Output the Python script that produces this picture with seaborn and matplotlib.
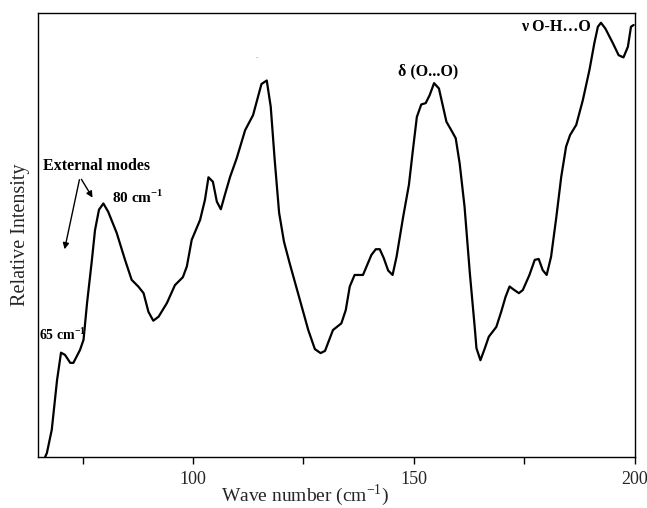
import matplotlib
matplotlib.use("Agg")
import matplotlib.pyplot as plt
import seaborn as sns
import pandas as pd

wavenumber = [66.5, 66.9, 68.0, 69.2, 70.1, 71.0, 72.2, 72.9, 74.4, 75.2, 76.0, 77.1, 77.8, 78.7,
              79.7, 80.8, 82.7, 84.6, 86.1, 87.6, 88.8, 89.9, 91.0, 92.2, 94.1, 95.9, 97.7,
              98.6, 99.7, 101.6, 102.7, 103.5, 104.5, 105.4, 106.3, 107.2, 108.4, 109.9,
              111.8, 113.6, 115.5, 116.7, 117.6, 118.5, 119.5, 120.6, 121.9, 124.2, 126.1,
              127.6, 128.9, 129.9, 131.7, 133.6, 134.6, 135.5, 136.6, 138.5, 140.4, 141.4,
              142.3, 143.2, 144.2, 145.2, 146.1, 147.6, 148.9, 149.8, 150.7, 151.7, 152.7,
              153.6, 154.6, 155.7, 157.4, 158.5, 159.5, 160.4, 161.5, 162.7, 163.8, 164.2,
              165.1, 166.1, 167.0, 168.7, 169.8, 170.8, 171.7, 172.5, 173.8, 174.7, 176.2,
              177.4, 178.3, 179.2, 180.1, 181.1, 182.3, 183.4, 184.5, 185.4, 186.8, 188.3,
              189.8, 190.9, 191.7, 192.4, 193.4, 195.1, 196.4, 197.5, 198.5, 199.2, 199.8]
intensity = [0.0, 0.9, 6.1, 17.3, 23.5, 23.0, 21.2, 21.2, 24.1, 26.4, 34.7, 44.4, 51.1, 55.7,
             57.1, 55.2, 50.5, 44.4, 39.9, 38.4, 36.9, 32.7, 30.7, 31.6, 34.7, 38.7, 40.5,
             42.9, 48.9, 53.4, 57.9, 63.0, 62.0, 57.5, 55.8, 59.0, 63.1, 67.3,
             73.6, 77.0, 84.0, 84.8, 78.9, 66.9, 55.0, 48.5, 43.6, 35.4, 28.6,
             24.3, 23.4, 23.9, 28.6, 30.1, 33.1, 38.4, 41.0, 41.0, 45.5, 46.8,
             46.8, 44.8, 42.0, 41.0, 45.1, 54.1, 61.3, 69.1, 76.6, 79.4, 79.7,
             81.5, 84.2, 83.0, 75.5, 73.6, 71.8, 66.1, 56.4, 41.4, 29.3, 24.5,
             21.8, 24.5, 27.1, 29.3, 32.7, 36.1, 38.4, 37.8, 36.9, 37.6, 41.0,
             44.4, 44.6, 42.1, 41.0, 45.1, 54.1, 63.1, 69.9, 72.5, 74.8, 80.4,
             87.2, 93.2, 96.9, 97.8, 96.5, 93.2, 90.5, 90.0, 92.4, 96.9, 97.3]

major_ticks = [100, 150, 200]
minor_ticks = [75, 125, 175]

df = pd.DataFrame({"w": wavenumber, "I": intensity})

sns.set_style("white")
plt.rcParams['font.family'] = ['Liberation Serif', 'DejaVu Serif']
plt.rcParams['mathtext.fontset'] = 'custom'
plt.rcParams['mathtext.rm'] = 'Liberation Serif'
plt.rcParams['mathtext.bf'] = 'Liberation Serif:bold'

fig = plt.figure(figsize=(6.47, 5.08), dpi=100)
ax = fig.add_axes([0.0595, 0.1004, 0.9212, 0.874])
sns.lineplot(data=df, x="w", y="I", ax=ax, color="black", linewidth=1.6, sort=False)

ax.set_xlim(65, 200)
ax.set_ylim(0, 100)
ax.set_xticks(major_ticks)
ax.set_xticklabels([str(t) for t in major_ticks], fontsize=13)
ax.set_xticks(minor_ticks, minor=True)
ax.tick_params(axis='x', which='both', direction='out', length=5, width=1, color='black',
               bottom=True, pad=5)
ax.set_yticks([])
for s in ax.spines.values():
    s.set_color('black')
    s.set_linewidth(1.0)

ax.set_xlabel("")
ax.set_ylabel("Relative Intensity", fontsize=14.5, labelpad=6)


def px(x, y):
    # convert pixel coords of reference to figure fraction
    return (x / 647.0, 1 - y / 508.0)


fig.text(*px(305, 495), "Wave number (cm$^{-1}$)", fontsize=14, va='center', ha='center')

bold = dict(fontweight='bold', color='black')
fig.text(*px(43, 166), "External modes", fontsize=11.5, va='center', ha='left', **bold)

ax.annotate("", xy=px(94, 200), xytext=px(80, 177), xycoords='figure fraction',
            textcoords='figure fraction',
            arrowprops=dict(arrowstyle='-|>', color='black', lw=1.0, mutation_scale=9))
ax.annotate("", xy=px(64, 252), xytext=px(80, 177), xycoords='figure fraction',
            textcoords='figure fraction',
            arrowprops=dict(arrowstyle='-|>', color='black', lw=1.0, mutation_scale=9))

fig.text(*px(112, 197), r"80 cm$^{\mathbf{-1}}$", fontsize=11, va='center', ha='left', **bold)
fig.text(*px(39, 335), r"65 cm$^{\mathbf{-1}}$", fontsize=10, va='center', ha='left', **bold)
fig.text(*px(398, 71), "δ (O...O)", fontsize=11.5, va='center', ha='left', **bold)
fig.text(*px(521, 27), "ν O-H…O", fontsize=11.5, va='center', ha='left', **bold)
fig.text(*px(258, 57), "...", fontsize=4, va='center', ha='center', color='#888888')

fig.savefig("out.png", dpi=100)
